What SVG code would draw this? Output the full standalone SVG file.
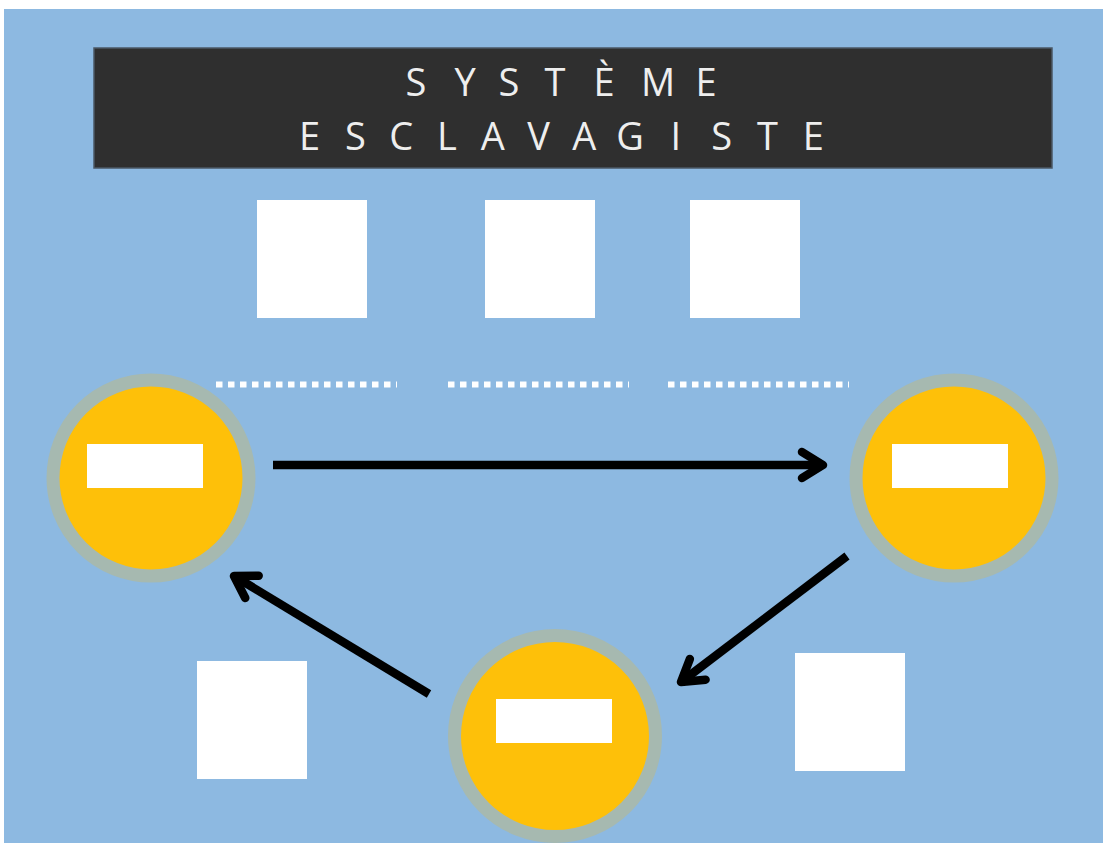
<svg xmlns="http://www.w3.org/2000/svg" width="1103" height="843" viewBox="0 0 1103 843">
  <defs>
    <style>
      .box { fill: #FFFFFF; }
      .ring { fill: #FEC009; stroke: #A6B9B0; stroke-width: 13; }
      .label { fill: #FFFFFF; }
      .dots { stroke: #FFFFFF; stroke-width: 6; stroke-dasharray: 6.5 5.5; fill: none; }
      .shaft { stroke: #000000; stroke-width: 8.5; fill: none; stroke-linecap: butt; }
      .title { font-family: "Open Sans", "Liberation Sans", sans-serif; font-weight: 400; font-size: 38px; fill: #EEEEEE; text-anchor: middle; }
    </style>
    <marker id="chev" markerUnits="userSpaceOnUse" viewBox="-30 -20 40 40" refX="0" refY="0" markerWidth="40" markerHeight="40" orient="auto" overflow="visible">
      <path d="M -21,-13 L 0,0 L -21,13" fill="none" stroke="#000000" stroke-width="8.5" stroke-linecap="round" stroke-linejoin="round"/>
    </marker>
  </defs>

  <rect x="0" y="0" width="1103" height="843" fill="#FFFFFF"/>
  <rect id="background" x="4" y="9" width="1099" height="834" fill="#8DB9E1"/>

  <g id="title">
    <rect x="94" y="48" width="958" height="120" fill="#2F2F2F" stroke="#4B5866" stroke-width="1.5"/>
    <text class="title" x="416 465 509 555 604 658 706" y="95.5">SYSTÈME</text>
    <text class="title" x="309.5 355.3 401.1 446.9 492.7 538.5 584.3 630.1 675.9 721.7 767.5 813.3" y="150">ESCLAVAGISTE</text>
  </g>

  <g id="box-top-1"><rect class="box" x="257" y="200" width="110" height="118"/></g>
  <g id="box-top-2"><rect class="box" x="485" y="200" width="110" height="118"/></g>
  <g id="box-top-3"><rect class="box" x="690" y="200" width="110" height="118"/></g>
  <g id="box-bottom-left"><rect class="box" x="197" y="661" width="110" height="118"/></g>
  <g id="box-bottom-right"><rect class="box" x="795" y="653" width="110" height="118"/></g>

  <g id="dotted-lines">
    <line class="dots" x1="216" y1="384.5" x2="397" y2="384.5"/>
    <line class="dots" x1="448" y1="384.5" x2="629" y2="384.5"/>
    <line class="dots" x1="668" y1="384.5" x2="849" y2="384.5"/>
  </g>

  <g id="node-left">
    <circle class="ring" cx="151" cy="478" r="98"/>
    <rect class="label" x="87" y="444" width="116" height="44"/>
  </g>
  <g id="node-right">
    <circle class="ring" cx="954" cy="478" r="98"/>
    <rect class="label" x="892" y="444" width="116" height="44"/>
  </g>
  <g id="node-bottom">
    <circle class="ring" cx="555" cy="736" r="100.5"/>
    <rect class="label" x="496" y="699" width="116" height="44"/>
  </g>

  <g id="connectors">
    <line class="shaft" x1="273" y1="465" x2="823" y2="465" marker-end="url(#chev)"/>
    <line class="shaft" x1="847" y1="556" x2="681" y2="682" marker-end="url(#chev)"/>
    <line class="shaft" x1="429" y1="694" x2="234" y2="576" marker-end="url(#chev)"/>
  </g>
</svg>
